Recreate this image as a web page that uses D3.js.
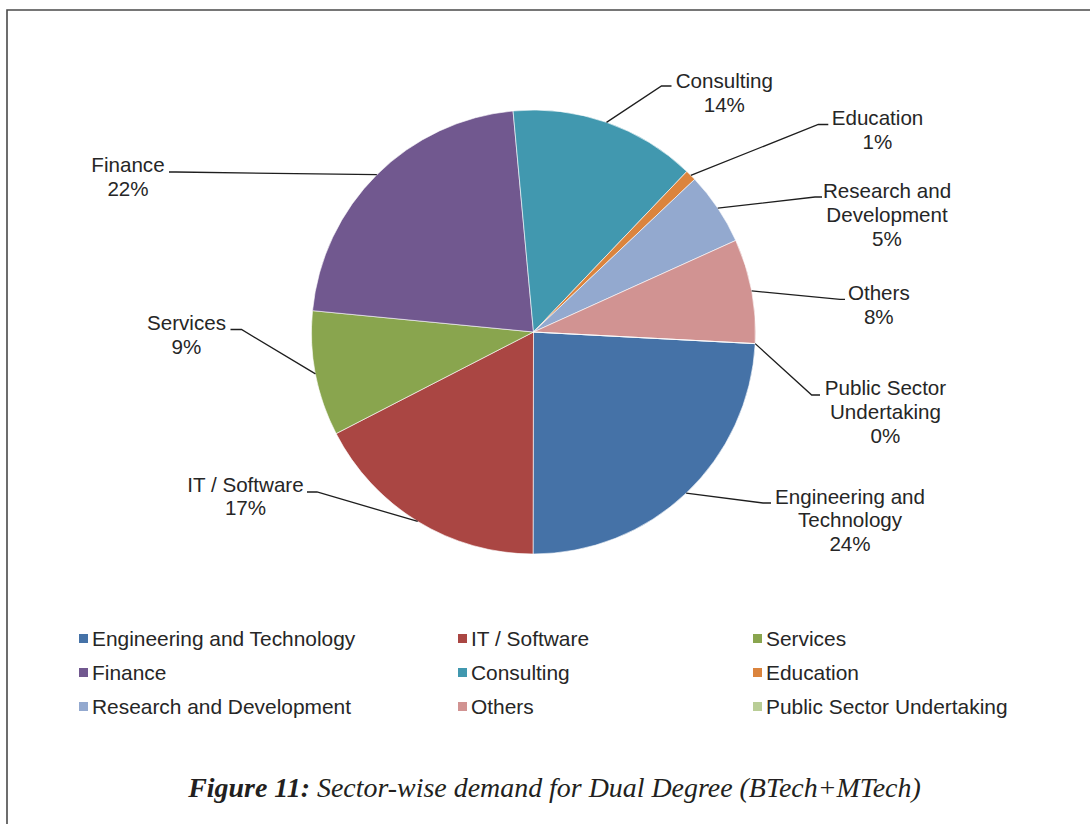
<!DOCTYPE html>
<html>
<head>
<meta charset="utf-8">
<script src="https://cdn.jsdelivr.net/npm/d3@7"></script>
<style>
  html, body { margin: 0; padding: 0; background: #fff; }
  svg { display: block; }
</style>
</head>
<body>
<svg id="chart" width="1090" height="824"></svg>
<script>
// ---- data ----
const categories = [
  "Engineering and Technology", "IT / Software", "Services", "Finance",
  "Consulting", "Education", "Research and Development", "Others",
  "Public Sector Undertaking"
];
const shares = [24.2, 17.4, 9.1, 22.0, 13.6, 0.8, 5.3, 7.6, 0.0];
const colors = ["#4572A7", "#AA4643", "#89A54E", "#71588F", "#4198AF",
                "#DB843D", "#93A9CF", "#D19392", "#B9CD96"];
const labelLines = [
  ["Engineering and", "Technology"], ["IT / Software"], ["Services"], ["Finance"],
  ["Consulting"], ["Education"], ["Research and", "Development"], ["Others"],
  ["Public Sector", "Undertaking"]
];
const titleBold = "Figure 11:";
const titleRest = " Sector-wise demand for Dual Degree (BTech+MTech)";

// ---- layout (positions only) ----
const cx = 533.5, cy = 332, radius = 222;
const startDeg = 93;
// elbow point, end of horizontal segment, text center x, first baseline y
const labelLayout = [
  { ex: 763, ey: 503, hx: 771, tx: 850, ty: 503.5 },
  { ex: 317, ey: 492, hx: 307, tx: 245.5, ty: 491.5 },
  { ex: 241.5, ey: 329.5, hx: 230.5, tx: 186.5, ty: 330 },
  { ex: 176, ey: 172, hx: 169, tx: 128, ty: 172 },
  { ex: 661.5, ey: 86, hx: 671.5, tx: 724.3, ty: 87.7 },
  { ex: 818.3, ey: 124.5, hx: 828.3, tx: 877.5, ty: 125 },
  { ex: 815, ey: 197, hx: 822, tx: 887, ty: 197.7 },
  { ex: 840, ey: 299.3, hx: 845, tx: 878.8, ty: 300 },
  { ex: 811.7, ey: 395, hx: 820, tx: 885.5, ty: 395 }
];
const lineH = 23.9;
const legendCols = [{ mx: 79, tx: 92 }, { mx: 458, tx: 471 }, { mx: 753, tx: 766 }];
const legendRows = [639, 673, 707];

const svg = d3.select("#chart");
const textColor = "#262626";
const sansFont = "'Liberation Sans', Arial, sans-serif";

// frame
svg.append("path")
  .attr("d", "M7,824 L7,10 L1090,10")
  .attr("fill", "none").attr("stroke", "#4a4a4a").attr("stroke-width", 1.6);

const data = categories.map((c, i) => ({ name: c, value: shares[i], color: colors[i], lines: labelLines[i], lay: labelLayout[i] }));
const total = d3.sum(shares);

const pie = d3.pie().sort(null).value(d => d.value)
  .startAngle(startDeg * Math.PI / 180)
  .endAngle(startDeg * Math.PI / 180 + 2 * Math.PI);
const arcs = pie(data);
const arc = d3.arc().innerRadius(0).outerRadius(radius);

const g = svg.append("g").attr("transform", `translate(${cx},${cy})`);
g.selectAll("path.slice").data(arcs).join("path")
  .attr("class", "slice")
  .attr("d", arc)
  .attr("fill", d => d.data.color)
  .attr("stroke", "#ffffff")
  .attr("stroke-width", 0.6);

// leader lines & labels
arcs.forEach(a => {
  const mid = (a.startAngle + a.endAngle) / 2;
  const px = cx + radius * Math.sin(mid);
  const py = cy - radius * Math.cos(mid);
  const L = a.data.lay;
  svg.append("polyline")
    .attr("points", `${px},${py} ${L.ex},${L.ey} ${L.hx},${L.ey}`)
    .attr("fill", "none").attr("stroke", "#1e1e1e").attr("stroke-width", 1.3);
  const lines = a.data.lines.concat([Math.round(a.data.value / total * 100) + "%"]);
  const t = svg.append("text")
    .attr("text-anchor", "middle")
    .attr("font-family", sansFont)
    .attr("font-size", "20.6px")
    .attr("fill", textColor);
  lines.forEach((ln, i) => {
    t.append("tspan").attr("x", L.tx).attr("y", L.ty + i * lineH).text(ln);
  });
});

// legend
data.forEach((d, i) => {
  const col = legendCols[i % 3];
  const y = legendRows[Math.floor(i / 3)];
  svg.append("rect")
    .attr("x", col.mx).attr("y", y - 5).attr("width", 9).attr("height", 9)
    .attr("fill", d.color);
  svg.append("text")
    .attr("x", col.tx).attr("y", y + 7.3)
    .attr("font-family", sansFont).attr("font-size", "20.9px")
    .attr("fill", textColor)
    .text(d.name);
});

// title
const title = svg.append("text")
  .attr("x", 554.5).attr("y", 797)
  .attr("text-anchor", "middle")
  .attr("font-family", "'Liberation Serif', 'Times New Roman', serif")
  .attr("font-style", "italic")
  .attr("font-size", "28px")
  .attr("fill", "#231f20");
title.append("tspan").attr("font-weight", "bold").text(titleBold);
title.append("tspan").text(titleRest);
// fit title width to reference (~733px)
const w = title.node().getComputedTextLength();
const fs = 28 * 733 / w;
title.attr("font-size", Math.min(fs, 34) + "px");
</script>
</body>
</html>
